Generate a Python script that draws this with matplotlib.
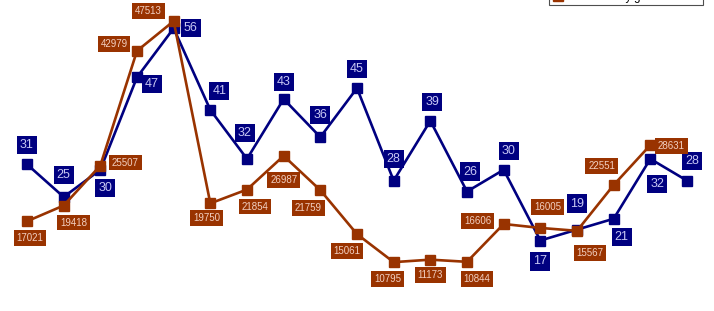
import numpy as np
import matplotlib
matplotlib.use("Agg")
import matplotlib.pyplot as plt

plt.rcParams["font.family"] = ["Liberation Sans", "DejaVu Sans"]

# Daten
tote = [31, 25, 30, 47, 56, 41, 32, 43, 36, 45, 28, 39, 26, 30, 17, 19, 21, 32, 28]
gesuche = [17021, 19418, 25507, 42979, 47513, 19750, 21854, 26987, 21759, 15061,
           10795, 11173, 10844, 16606, 16005, 15567, 22551, 28631, np.nan]
legende_gesuche = "Anzahl Asylgesuche"

# Label-Versatz in Pixeln (dx, dy nach unten positiv)
off_blau = [(0, -19), (0, -22), (5, 18), (15, 7), (17, 0), (9, -19), (-2, -26),
            (0, -17), (0, -22), (0, -19), (0, -22), (2, -19), (3, -20), (5, -19),
            (0, 21), (0, -26), (8, 18), (7, 25), (5, -20)]
off_braun = [(3, 17), (10, 17), (25, -3), (-23, -7), (-25, -10), (-4, 15), (8, 17),
             (0, 24), (-12, 18), (-10, 17), (-6, 17), (0, 15), (10, 17), (-26, -3),
             (7, -21), (13, 22), (-12, -19), (21, 1)]

blau = "#000080"
braun = "#993300"

W, H = 714, 311
fig = plt.figure(figsize=(W / 100, H / 100), dpi=100)
# Achse reicht unten ueber das Bild hinaus (Nullpunkt bei y=333 px)
ax = fig.add_axes([0, -22 / H, 1, 333 / H])
ax2 = ax.twinx()

x = np.arange(len(tote))
ax.plot(x, tote, color=blau, lw=1.9, marker="s", ms=6.5, zorder=3)
ax2.plot(x, gesuche, color=braun, lw=1.9, marker="s", ms=6.5, zorder=3,
         label=legende_gesuche)

ax.set_xlim(-0.736, 18.736)
ax.set_ylim(0, 61.2)
ax2.set_ylim(0, 50730)
for a in (ax, ax2):
    a.axis("off")

px = 1 / 100 * 72  # Pixel -> Punkt
for i, v in enumerate(tote):
    dx, dy = off_blau[i]
    ax2.annotate(str(v), (x[i], v), xycoords=ax.transData,
                 xytext=(dx * px, -dy * px),
                 textcoords="offset points", ha="center", va="center",
                 fontsize=9, color="#c8c8f4", zorder=5,
                 bbox=dict(boxstyle="square,pad=0.25", fc=blau, ec="none"))
for i, v in enumerate(gesuche):
    if np.isnan(v):
        continue
    dx, dy = off_braun[i]
    ax2.annotate(str(int(v)), (x[i], v), xytext=(dx * px, -dy * px),
                 textcoords="offset points", ha="center", va="center",
                 fontsize=7, color="#f2d0c2", zorder=5,
                 bbox=dict(boxstyle="square,pad=0.3", fc=braun, ec="none"))

leg = fig.legend(loc="lower left", bbox_to_anchor=(549 / W, 1 - 5 / H, 154 / W, 0.05),
                 mode="expand", frameon=True, fancybox=False, edgecolor="#222222",
                 fontsize=8.5, borderaxespad=0, handlelength=1.3,
                 handletextpad=0.6, borderpad=0.15)
leg.get_frame().set_linewidth(0.8)

fig.savefig("out.png", dpi=100)
